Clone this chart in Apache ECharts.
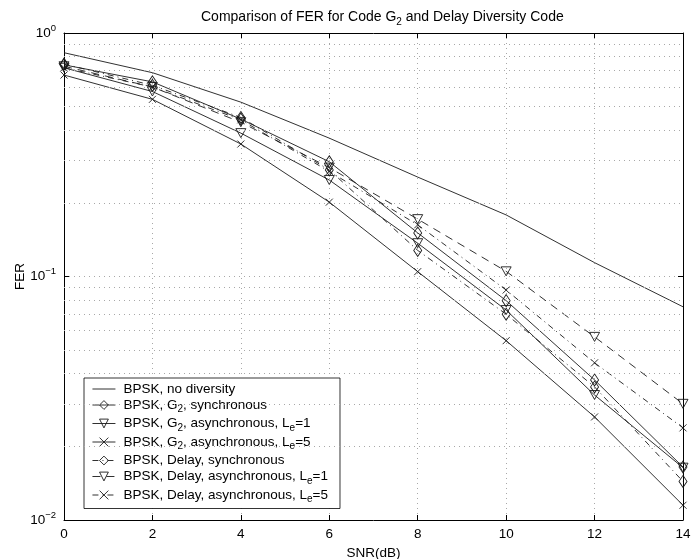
<!DOCTYPE html>
<html>
<head>
<meta charset="utf-8">
<script src="https://cdn.jsdelivr.net/npm/echarts@6/dist/echarts.min.js"></script>
<style>
  html, body { margin: 0; padding: 0; background: #fff; }
  #chart { width: 700px; height: 559px; }
</style>
</head>
<body>
<div id="chart"></div>
<script>
// SNR (dB)
const snr = [0, 2, 4, 6, 8, 10, 12, 14]

// FER values
const noDiversity = [0.83, 0.687, 0.52, 0.37, 0.256, 0.179, 0.114, 0.0751]
const g2Sync = [0.74, 0.63, 0.443, 0.296, 0.151, 0.0796, 0.0376, 0.0165]
const g2AsyncLe1 = [0.72, 0.575, 0.388, 0.249, 0.137, 0.0728, 0.0326, 0.0164]
const g2AsyncLe5 = [0.672, 0.534, 0.35, 0.202, 0.1047, 0.0545, 0.0265, 0.0115]
const delaySync = [0.745, 0.61, 0.45, 0.274, 0.128, 0.070, 0.0352, 0.0144]
const delayAsyncLe1 = [0.73, 0.60, 0.43, 0.28, 0.172, 0.105, 0.0565, 0.030]
const delayAsyncLe5 = [0.72, 0.60, 0.44, 0.27, 0.163, 0.088, 0.0442, 0.0239]

const seriesNames = [
  'BPSK, no diversity',
  'BPSK, G2, synchronous',
  'BPSK, G2, asynchronous, Le=1',
  'BPSK, G2, asynchronous, Le=5',
  'BPSK, Delay, synchronous',
  'BPSK, Delay, asynchronous, Le=1',
  'BPSK, Delay, asynchronous, Le=5'
]
const legendLabels = [
  'BPSK, no diversity',
  'BPSK, G{sub|2}, synchronous',
  'BPSK, G{sub|2}, asynchronous, L{sub|e}=1',
  'BPSK, G{sub|2}, asynchronous, L{sub|e}=5',
  'BPSK, Delay, synchronous',
  'BPSK, Delay, asynchronous, L{sub|e}=1',
  'BPSK, Delay, asynchronous, L{sub|e}=5'
]

// minor grid lines of the log axis
const minorGrid = [0.02, 0.03, 0.04, 0.05, 0.06, 0.07, 0.08, 0.09,
                   0.2, 0.3, 0.4, 0.5, 0.6, 0.7, 0.8, 0.9]

const INK = '#1a1a1a'
const GRID = '#a8a8a8'
const FONT = 'Liberation Sans, Arial, sans-serif'

const DIAMOND = 'diamond'
const TRI_DOWN = 'path://M0,0 L10,0 L5,9 Z'
const CROSS = 'path://M0,0 L10,10 M10,0 L0,10'
const DASH_DOT = [6, 4, 1, 4]
const DASHED = [8, 6]

const pairs = ys => snr.map((x, i) => [x, ys[i]])

const makeSeries = (name, ys, symbol, size, dash) => ({
  name,
  type: 'line',
  data: pairs(ys),
  symbol: symbol || 'none',
  symbolSize: size,
  showSymbol: !!symbol,
  lineStyle: { color: INK, width: 0.9, type: dash || 'solid' },
  itemStyle: { color: 'rgba(0,0,0,0)', borderColor: INK, borderWidth: 0.9 },
  emphasis: { disabled: true },
  z: 3
})

const chart = echarts.init(document.getElementById('chart'), null, { renderer: 'canvas' })

const supLabel = v => {
  const e = Math.round(Math.log10(v))
  return '{b|10}{s|' + (e < 0 ? '\u2212' + (-e) : e) + '}'
}

const legendData = seriesNames.map((name, i) => i === 0
  ? { name, itemStyle: { opacity: 0 } }
  : { name })

const option = {
  animation: false,
  backgroundColor: '#fff',
  textStyle: { fontFamily: FONT, color: '#000' },
  title: {
    text: 'Comparison of FER for Code G{sub|2} and Delay Diversity Code',
    left: 196,
    top: 3,
    textStyle: {
      fontFamily: FONT, fontSize: 14, fontWeight: 'normal', color: '#000',
      rich: {
        sub: { fontSize: 10, padding: [9, 0, 0, 0], fontFamily: FONT }
      }
    }
  },
  grid: { left: 64, right: 17, top: 33, bottom: 39, outerBoundsMode: 'none' },
  legend: {
    orient: 'vertical',
    left: 84,
    top: 378,
    padding: [4, 12, 4, 8],
    itemGap: 2,
    itemWidth: 23,
    itemHeight: 11,
    backgroundColor: '#fff',
    borderColor: '#000',
    borderWidth: 0.8,
    borderRadius: 0,
    selectedMode: false,
    data: legendData,
    formatter: name => legendLabels[seriesNames.indexOf(name)],
    itemStyle: { color: 'rgba(0,0,0,0)', borderColor: INK, borderWidth: 0.9 },
    lineStyle: { color: INK, width: 0.9 },
    textStyle: {
      fontFamily: FONT, fontSize: 13.5, color: '#000', padding: [0, 0, 0, 3],
      rich: {
        sub: { fontSize: 10, padding: [9, 0, 0, 0], fontFamily: FONT }
      }
    }
  },
  xAxis: [
    {
      type: 'value', min: 0, max: 14, interval: 2,
      name: 'SNR(dB)', nameLocation: 'middle', nameGap: 26, nameMoveOverlap: false,
      nameTextStyle: { fontFamily: FONT, fontSize: 13.5, color: '#000' },
      axisLine: { show: true, onZero: false, lineStyle: { color: '#000', width: 1 } },
      axisTick: { show: true, inside: true, length: 5, lineStyle: { color: '#000' } },
      axisLabel: { fontFamily: FONT, fontSize: 13.5, color: '#000', margin: 7 },
      splitLine: { show: true, lineStyle: { color: GRID, type: [1, 4], width: 1 } }
    },
    {
      type: 'value', min: 0, max: 14, interval: 2, position: 'top',
      axisLine: { show: true, onZero: false, lineStyle: { color: '#000', width: 1 } },
      axisTick: { show: true, inside: true, length: 5, lineStyle: { color: '#000' } },
      axisLabel: { show: false },
      splitLine: { show: false }
    }
  ],
  yAxis: [
    {
      type: 'log', logBase: 10, min: 0.01, max: 1,
      name: 'FER', nameLocation: 'middle', nameGap: 37, nameMoveOverlap: false,
      nameTextStyle: { fontFamily: FONT, fontSize: 13.5, color: '#000' },
      axisLine: { show: true, onZero: false, lineStyle: { color: '#000', width: 1 } },
      axisTick: { show: true, inside: true, length: 5, lineStyle: { color: '#000' } },
      axisLabel: {
        formatter: supLabel, margin: 8,
        rich: {
          b: { fontFamily: FONT, fontSize: 13.5, color: '#000' },
          s: { fontFamily: FONT, fontSize: 9.5, color: '#000', padding: [0, 0, 10, 0] }
        }
      },
      splitLine: { show: true, lineStyle: { color: GRID, type: [1, 4], width: 1 } }
    },
    {
      type: 'log', logBase: 10, min: 0.01, max: 1, position: 'right',
      axisLine: { show: true, onZero: false, lineStyle: { color: '#000', width: 1 } },
      axisTick: { show: true, inside: true, length: 5, lineStyle: { color: '#000' } },
      axisLabel: { show: false },
      splitLine: { show: false }
    }
  ],
  series: [
    {
      name: 'minor grid',
      type: 'line',
      data: [],
      silent: true,
      markLine: {
        silent: true,
        symbol: 'none',
        label: { show: false },
        lineStyle: { color: GRID, type: [1, 4], width: 1 },
        data: minorGrid.map(v => ({ yAxis: v }))
      }
    },
    makeSeries(seriesNames[0], noDiversity, null),
    makeSeries(seriesNames[1], g2Sync, DIAMOND, [8, 12]),
    makeSeries(seriesNames[2], g2AsyncLe1, TRI_DOWN, [10, 9]),
    makeSeries(seriesNames[3], g2AsyncLe5, CROSS, [7, 7]),
    makeSeries(seriesNames[4], delaySync, DIAMOND, [8, 12], DASH_DOT),
    makeSeries(seriesNames[5], delayAsyncLe1, TRI_DOWN, [10, 9], DASHED),
    makeSeries(seriesNames[6], delayAsyncLe5, CROSS, [7, 7], DASH_DOT)
  ]
}

chart.setOption(option)
</script>
</body>
</html>
